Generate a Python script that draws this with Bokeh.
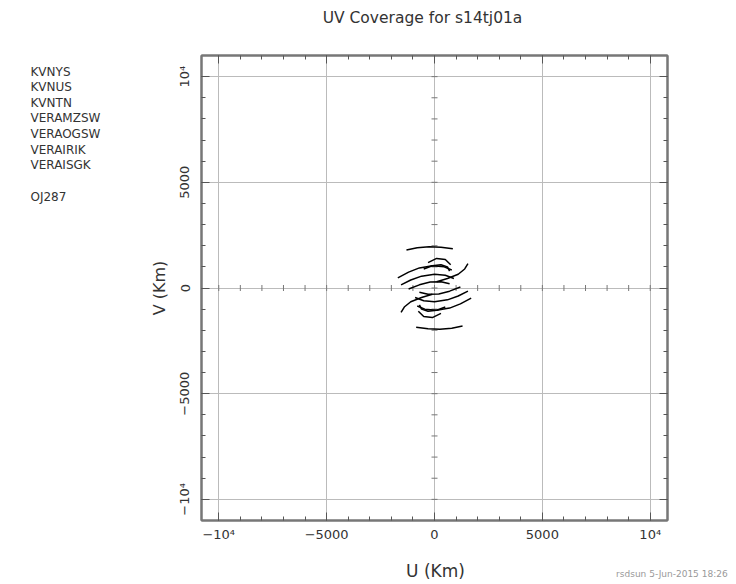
import numpy as np
from bokeh.plotting import figure
from bokeh.layouts import column, row
from bokeh.models import Range1d, FixedTicker, LinearAxis
from bokeh.core.properties import value
from bokeh.embed import file_html
from bokeh.resources import INLINE

# ---- data ----
title_text = "UV Coverage for s14tj01a"
stations = ["KVNYS", "KVNUS", "KVNTN", "VERAMZSW", "VERAOGSW", "VERAIRIK", "VERAISGK"]
source_name = "OJ287"
footer_text = "rsdsun  5-Jun-2015 18:26"
x_label = "U (Km)"
y_label = "V (Km)"

major_ticks = [-10000, -5000, 0, 5000, 10000]
minor_ticks = list(range(-10000, 10001, 1000))
tick_labels = {-10000: "\u221210\u2074", -5000: "\u22125000", 0: "0", 5000: "5000", 10000: "10\u2074"}

# UV tracks (km), one half; the conjugate half is (-u, -v)
track_u = [
    [-1300, -800, -250, 300, 850],
    [-1700, -1200, -700, -100, 450, 800],
    [-300, 100, 500, 750],
    [100, 600, 1100, 1400, 1550],
    [-1550, -1100, -600, 0, 500, 900],
    [-1200, -700, -200, 300, 700],
    [-500, -100, 300, 600, 700],
]
track_v = [
    [1800, 1900, 1950, 1930, 1860],
    [480, 750, 950, 1050, 1000, 850],
    [1200, 1400, 1350, 1100],
    [300, 450, 650, 900, 1150],
    [150, 380, 560, 650, 600, 450],
    [-50, 150, 280, 300, 200],
    [900, 1050, 1100, 1000, 800],
]

FONT = "DejaVu Sans"
TXT = "#333333"
W = 736
TOP_H, MID_H, BOT_H = 40, 504, 40
LEFT_W = 146
BORDER_T, BORDER_B = 15, 24
FRAME_H = MID_H - BORDER_T - BORDER_B


def blank(w, h, yspan=None):
    ys = h if yspan is None else yspan
    f = figure(width=w, height=h, output_backend="svg", toolbar_location=None,
               x_range=Range1d(0, w), y_range=Range1d(ys, 0),
               min_border=0, min_border_left=0, min_border_right=0,
               min_border_top=0, min_border_bottom=0,
               x_axis_type=None, y_axis_type=None)
    f.outline_line_color = None
    f.xgrid.visible = False
    f.ygrid.visible = False
    return f


# ---- top (title) ----
top = blank(W, TOP_H)
top.text(x=[422], y=[17], text=[title_text], text_font=value(FONT), text_font_size="15.5px",
         text_color=TXT, text_align="center", text_baseline="middle")

# ---- left (station list); its frame is aligned with the main plot's frame ----
left = blank(LEFT_W, MID_H, yspan=FRAME_H)
names = stations + [source_name]
ys = [16 + 15.6 * i for i in range(len(stations))] + [141]
left.text(x=[30] * len(names), y=ys, text=names, text_font=value(FONT), text_font_size="12px",
          text_color=TXT, text_align="left", text_baseline="middle")

# ---- main plot ----
p = figure(width=W - LEFT_W, height=MID_H, output_backend="svg", toolbar_location=None,
           x_range=Range1d(-10800, 10800), y_range=Range1d(-11000, 11000),
           min_border_left=53, min_border_right=69, min_border_top=BORDER_T,
           min_border_bottom=BORDER_B, y_axis_label=y_label)
p.outline_line_color = "#777777"
p.outline_line_width = 2

for ax in (p.xaxis[0], p.yaxis[0]):
    ax.ticker = FixedTicker(ticks=major_ticks, minor_ticks=minor_ticks)
    ax.major_label_overrides = tick_labels
    ax.major_tick_in = 8
    ax.major_tick_out = 0
    ax.minor_tick_in = 4
    ax.minor_tick_out = 0
    ax.major_tick_line_color = "#555555"
    ax.minor_tick_line_color = "#555555"
    ax.axis_line_color = "#777777"
    ax.axis_line_width = 2
    ax.major_label_text_font = FONT
    ax.major_label_text_font_size = "13px"
    ax.major_label_text_color = TXT
    ax.axis_label_text_font = FONT
    ax.axis_label_text_font_size = "16px"
    ax.axis_label_text_font_style = "normal"
    ax.axis_label_text_color = TXT

p.xaxis[0].major_label_standoff = 6
p.yaxis[0].major_label_orientation = "vertical"
p.yaxis[0].major_label_standoff = 9
p.yaxis[0].axis_label_standoff = 6

for side in ("above", "right"):
    ax = LinearAxis(ticker=FixedTicker(ticks=major_ticks, minor_ticks=minor_ticks),
                    major_tick_in=8, major_tick_out=0, minor_tick_in=4, minor_tick_out=0,
                    major_tick_line_color="#555555", minor_tick_line_color="#555555",
                    axis_line_color="#777777", axis_line_width=2,
                    major_label_text_alpha=0, major_label_text_font_size="0px",
                    major_label_standoff=0)
    p.add_layout(ax, side)

for g in (p.xgrid[0], p.ygrid[0]):
    g.ticker = FixedTicker(ticks=major_ticks)
    g.grid_line_color = "#bbbbbb"
    g.grid_line_width = 1

# small ticks along zero lines
p.scatter(minor_ticks, [0] * len(minor_ticks), marker="dash", size=6, angle=np.pi / 2,
          line_color="#777777", line_width=1)
p.scatter([0] * len(minor_ticks), minor_ticks, marker="dash", size=6,
          line_color="#777777", line_width=1)

# UV tracks and conjugates
for u, v in zip(track_u, track_v):
    p.line(u, v, line_color="black", line_width=1.5)
    p.line([-a for a in u], [-b for b in v], line_color="black", line_width=1.5)

# ---- bottom (x label + footer) ----
bot = blank(W, BOT_H)
bot.text(x=[435], y=[26], text=[x_label], text_font=value(FONT), text_font_size="17px",
         text_color=TXT, text_align="center", text_baseline="middle")
bot.text(x=[730], y=[29], text=[footer_text], text_font=value(FONT), text_font_size="9px",
         text_color="#999999", text_align="right", text_baseline="middle")

layout = column(top, row(left, p), bot)
open("out.html", "w").write(file_html(layout, INLINE))
